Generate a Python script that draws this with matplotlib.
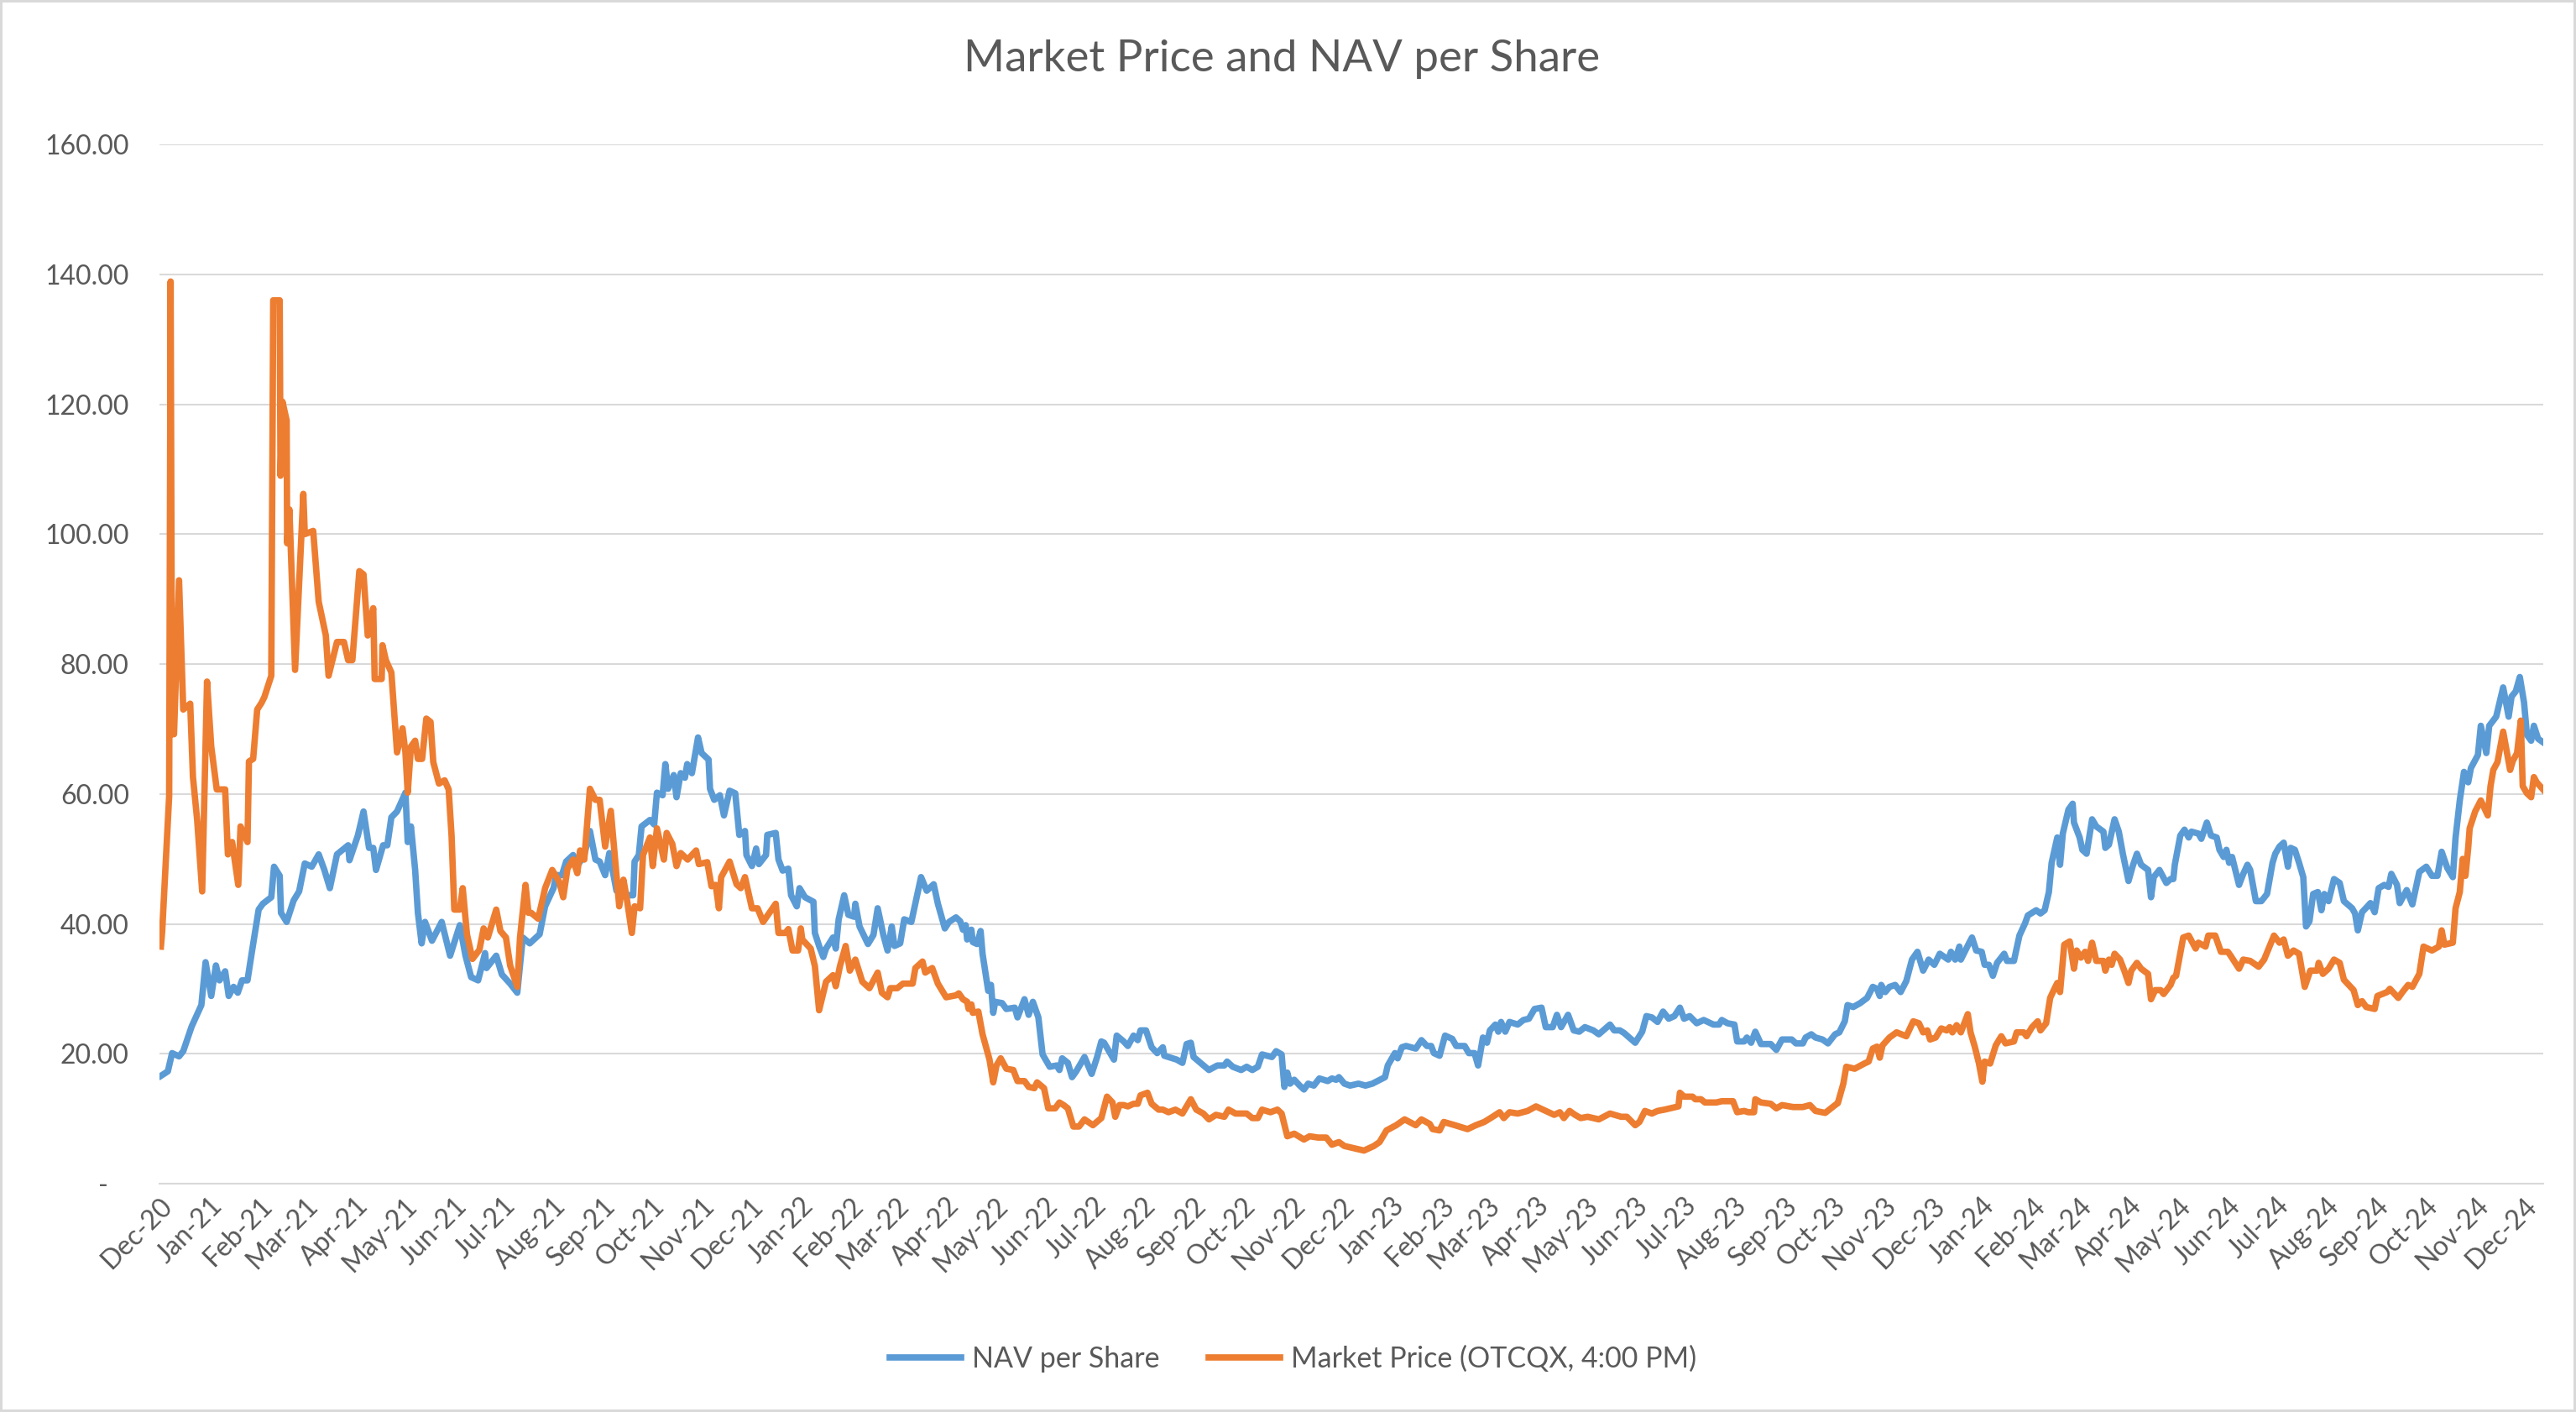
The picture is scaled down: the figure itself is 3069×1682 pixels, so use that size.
import matplotlib
matplotlib.use("Agg")
import matplotlib.pyplot as plt
import matplotlib.dates as mdates
import matplotlib.ticker as mticker
import pandas as pd

start = pd.Timestamp("2020-12-01")

# NAV per Share (days after 2020-12-01, value)
nav_day = [0.9, 5.2, 7.8, 12.1, 14.7, 19.9, 25.9, 28.5, 32.0, 34.9, 37.1, 40.6, 42.8, 45.8, 48.4, 51.0, 54.4, 57.0,
           61.3, 63.9, 69.1, 70.8, 74.3, 75.1, 78.6, 82.9, 86.3, 89.8, 94.1, 98.4, 101.9, 105.3, 109.7, 116.6, 117.4,
           122.6, 126.1, 129.5, 132.1, 133.8, 138.2, 140.8, 143.3, 146.8, 152.0, 153.4, 155.4, 158.0, 159.7, 162.0,
           164.1, 168.4, 174.4, 179.6, 185.6, 189.1, 192.6, 196.9, 201.2, 202.1, 208.1, 211.6, 216.7, 221.1, 224.5,
           228.8, 234.9, 238.3, 243.5, 245.2, 248.7, 251.3, 255.6, 258.2, 262.5, 266.0, 269.4, 272.0, 275.4, 278.0,
           282.4, 290.1, 292.7, 293.6, 296.2, 297.9, 303.1, 305.7, 307.4, 310.9, 312.6, 314.3, 317.8, 319.5, 322.1,
           324.7, 326.1, 329.0, 332.8, 335.0, 339.3, 340.2, 342.8, 346.3, 348.8, 352.3, 355.8, 358.3, 361.8, 362.7,
           366.1, 368.7, 370.4, 374.8, 375.6, 380.8, 382.5, 385.1, 388.6, 390.3, 393.8, 395.5, 398.9, 404.1, 405.0,
           407.6, 410.2, 411.9, 416.2, 417.9, 419.7, 423.1, 425.7, 429.2, 430.0, 432.6, 437.8, 441.2, 443.8, 447.3,
           449.9, 452.5, 454.2, 457.7, 460.2, 464.6, 470.6, 474.1, 478.4, 481.0, 485.3, 487.9, 492.2, 494.8, 496.5,
           498.2, 499.1, 501.7, 502.6, 505.2, 507.4, 508.6, 512.1, 513.8, 515.2, 516.4, 520.7, 523.3, 528.5, 530.2,
           534.5, 537.1, 539.7, 543.1, 545.7, 550.1, 554.4, 556.1, 557.8, 561.3, 563.9, 566.5, 571.6, 576.0, 579.4,
           582.0, 583.7, 586.3, 589.8, 591.5, 595.8, 598.4, 601.9, 604.5, 606.2, 609.6, 613.1, 616.5, 620.0, 620.9,
           623.5, 628.6, 632.1, 634.7, 637.3, 639.0, 643.3, 648.5, 653.7, 658.0, 659.7, 663.2, 668.4, 671.8, 675.3,
           678.7, 681.3, 687.4, 690.0, 693.4, 695.1, 696.9, 698.6, 701.2, 704.6, 707.2, 709.8, 713.3, 716.7, 721.9,
           724.5, 727.1, 728.8, 732.2, 735.7, 740.9, 745.2, 749.5, 757.3, 759.0, 763.4, 765.1, 767.7, 770.3, 776.3,
           779.8, 783.2, 785.8, 787.5, 791.0, 794.4, 798.8, 801.3, 806.5, 809.1, 812.6, 814.8, 817.8, 820.3, 822.1,
           825.5, 827.3, 829.0, 831.6, 834.2, 839.3, 842.8, 846.2, 849.7, 854.0, 856.6, 860.9, 863.5, 866.1, 870.4,
           873.9, 877.3, 880.8, 886.0, 889.4, 896.3, 898.9, 902.4, 905.0, 911.9, 916.2, 918.8, 922.2, 925.7, 929.1,
           932.6, 936.1, 939.5, 942.1, 945.5, 949.9, 954.2, 960.2, 963.7, 965.4, 968.9, 973.2, 974.9, 979.2, 980.9,
           983.5, 986.1, 989.6, 995.6, 999.1, 1002.6, 1008.6, 1011.2, 1015.5, 1017.2, 1020.7, 1023.3, 1027.6, 1031.0,
           1035.4, 1038.0, 1041.4, 1043.1, 1046.6, 1050.9, 1055.2, 1058.7, 1061.3, 1063.0, 1063.9, 1066.4, 1069.0,
           1072.5, 1075.9, 1079.4, 1082.9, 1086.3, 1089.8, 1093.2, 1096.7, 1100.1, 1105.3, 1107.0, 1109.6, 1112.2,
           1113.1, 1118.3, 1120.0, 1122.6, 1126.0, 1127.8, 1130.4, 1132.9, 1135.5, 1139.9, 1141.6, 1145.9, 1149.3,
           1152.8, 1154.5, 1159.7, 1162.3, 1164.9, 1167.5, 1169.2, 1172.7, 1174.4, 1176.1, 1179.6, 1182.2, 1183.0,
           1186.5, 1188.2, 1190.8, 1194.2, 1196.8, 1201.2, 1202.4, 1204.6, 1208.1, 1210.7, 1213.2, 1216.7, 1219.3,
           1221.9, 1224.5, 1228.8, 1230.6, 1232.3, 1235.8, 1240.1, 1242.7, 1244.4, 1245.3, 1248.7, 1251.3, 1253.9,
           1255.6, 1259.9, 1261.7, 1265.1, 1267.7, 1271.2, 1272.9, 1275.5, 1277.2, 1278.9, 1280.7, 1285.0, 1287.6,
           1290.2, 1291.9, 1295.4, 1298.8, 1302.3, 1305.7, 1307.4, 1310.0, 1312.6, 1315.2, 1316.9, 1319.5, 1322.1,
           1324.7, 1326.4, 1328.5, 1330.8, 1333.7, 1335.9, 1337.7, 1340.3, 1343.7, 1347.2, 1349.8, 1354.9, 1356.7,
           1358.4, 1361.0, 1364.4, 1366.2, 1368.8, 1371.3, 1374.8, 1377.4, 1379.1, 1382.6, 1384.3, 1388.6, 1392.1,
           1396.4, 1400.7, 1404.2, 1407.6, 1410.2, 1413.7, 1417.1, 1418.8, 1421.4, 1424.0, 1426.6, 1428.3, 1432.6,
           1434.4, 1437.8, 1439.6, 1443.9, 1448.2, 1451.6, 1453.4, 1456.0, 1458.5, 1461.1, 1462.9, 1465.5, 1467.2,
           1469.8, 1473.2]
nav_val = [16.6, 17.3, 20.1, 19.6, 20.4, 24.2, 27.5, 34.1, 28.9, 33.6, 31.3, 32.7, 28.9, 30.3, 29.4, 31.3, 31.3, 35.5,
           42.2, 43.1, 44.1, 48.8, 47.4, 41.7, 40.3, 43.6, 45.0, 49.3, 48.8, 50.7, 48.3, 45.5, 50.7, 52.1, 49.8,
           53.6, 57.3, 51.7, 51.7, 48.3, 52.1, 52.1, 56.4, 57.3, 60.2, 52.6, 55.0, 48.3, 41.7, 37.0,
           40.3, 37.4, 40.3, 35.1, 39.8, 35.1, 31.8, 31.3, 35.5, 33.2, 35.1, 32.2, 30.8, 29.4, 37.9,
           37.0, 38.4, 42.7, 45.5, 47.5, 47.5, 49.6, 50.6, 48.9, 50.6, 54.3, 49.9, 49.6, 47.5, 50.9,
           45.1, 44.4, 44.4, 49.6, 50.6, 55.0, 56.0, 55.3, 60.2, 59.8, 64.6, 60.8, 62.9, 59.5, 63.2,
           62.5, 64.6, 63.2, 68.7, 66.3, 65.3, 60.8, 59.1, 59.8, 56.7, 60.5, 60.1, 53.7, 54.3, 50.6,
           48.9, 51.6, 49.2, 50.6, 53.7, 54.0, 49.9, 48.2, 48.5, 44.4, 42.7, 45.5, 44.1, 43.4, 38.6,
           36.6, 34.9, 36.2, 37.9, 36.2, 40.7, 44.4, 41.4, 41.1, 43.1, 39.6, 36.9, 38.3, 42.4, 38.3,
           35.9, 39.6, 36.6, 37.0, 40.7, 40.3, 47.2, 45.1, 46.1, 43.1, 39.3, 40.3, 41.0, 40.4, 39.1,
           39.8, 37.6, 39.1, 37.2, 36.9, 38.9, 35.4, 29.7, 30.6, 26.3, 28.0, 27.8, 26.9, 27.1, 25.6,
           28.4, 26.0, 28.0, 25.6, 19.9, 18.0, 18.2, 17.5, 19.3, 18.6, 16.4, 17.3, 19.5, 16.9, 19.5,
           21.9, 21.7, 20.6, 19.1, 22.8, 21.9, 21.2, 22.8, 22.1, 23.6, 23.6, 21.0, 20.1, 21.0, 19.7,
           19.5, 19.1, 18.6, 21.5, 21.7, 19.5, 18.6, 17.5, 18.2, 18.2, 18.8, 18.0, 17.5, 18.0, 17.5,
           18.0, 19.9, 19.5, 20.4, 19.9, 14.9, 17.1, 15.4, 16.0, 15.1, 14.5, 15.4, 15.1, 16.2, 15.8,
           16.2, 16.0, 16.4, 15.4, 15.1, 15.4, 15.1, 15.4, 16.4, 18.2, 20.1, 19.3, 21.0, 21.2, 20.8,
           22.1, 21.2, 21.2, 20.1, 19.7, 22.8, 22.3, 21.2, 21.2, 20.1, 20.1, 18.2, 22.5, 21.7, 23.6,
           24.5, 23.4, 24.9, 23.4, 24.9, 24.5, 25.2, 25.4, 26.9, 27.1, 24.1, 24.1, 26.0, 24.1, 26.0,
           23.6, 23.4, 24.1, 23.6, 23.0, 24.5, 23.6, 23.6, 23.2, 21.7, 23.4, 25.8, 25.6, 24.9, 26.5,
           25.4, 25.8, 27.1, 25.4, 25.8, 24.7, 25.2, 24.5, 24.5, 25.2, 24.7, 24.5, 21.9, 21.9, 22.5,
           21.7, 23.4, 21.5, 21.5, 20.6, 22.2, 22.2, 21.6, 21.6, 22.5, 23.0, 22.5, 22.2, 21.6,
           23.0, 23.3, 25.0, 27.5, 27.2, 27.8, 28.6, 30.3, 30.0, 28.9, 30.6, 29.5, 30.3,
           30.6, 29.5, 31.2, 34.5, 35.7, 32.8, 34.5, 33.7, 35.4, 34.5, 35.7, 34.5, 36.5,
           34.5, 37.1, 37.9, 35.9, 35.7, 33.7, 33.7, 32.0, 34.0, 35.4, 34.3, 34.3, 38.2,
           40.1, 41.3, 42.1, 41.6, 42.1, 44.9, 49.4, 53.3, 49.1, 53.9, 57.6, 58.5, 55.6,
           53.3, 51.4, 50.8, 56.1, 55.0, 54.2, 51.7, 52.2, 56.1, 54.2, 50.8, 46.6, 48.9,
           50.8, 49.1, 48.3, 44.1, 47.2, 48.3, 46.3, 46.9, 46.9, 49.1, 53.6, 54.5, 53.3,
           54.2, 53.9, 53.1, 55.6, 53.6, 53.3, 51.4, 50.3, 51.4, 49.4, 50.3, 46.0, 47.7,
           49.1, 48.3, 43.5, 43.5, 44.6, 49.4, 50.8, 51.9, 52.5, 48.8, 51.7, 51.4, 49.4,
           47.2, 39.6, 40.4, 44.6, 44.9, 42.1, 44.6, 43.5, 46.9, 46.3, 43.5, 42.4, 41.6,
           39.0, 41.8, 42.7, 43.2, 41.8, 45.5, 46.0, 45.7, 47.7, 46.0, 43.2, 45.2, 43.0,
           48.0, 48.8, 47.4, 47.4, 51.1, 48.6, 47.2, 53.3, 59.0, 63.4, 61.8, 64.0, 66.0,
           70.5, 66.3, 70.5, 71.9, 76.4, 71.9, 75.0, 75.8, 78.0, 74.1, 69.1, 68.2, 70.5,
           68.5, 67.9]

# Market Price (OTCQX, 4:00 PM)
mkt_day = [0.9, 1.7, 6.0, 6.9, 7.8, 9.0, 12.1, 14.7, 19.0, 20.7, 23.3, 26.4, 29.4, 32.0, 35.4, 40.6, 42.3, 44.9,
           48.7, 50.1, 54.4, 55.3, 57.9, 60.4, 63.0, 64.8, 69.1, 70.3, 74.3, 74.8, 76.0, 78.6, 78.9, 80.3, 83.8,
           88.9, 89.8, 95.0, 98.4, 102.8, 104.5, 109.7, 114.0, 116.6, 119.2, 123.5, 126.1, 128.7, 132.1, 133.0,
           137.3, 137.8, 139.9, 143.3, 146.8, 150.2, 152.0, 153.4, 155.4, 158.0, 159.7, 162.3, 164.9, 167.5, 169.2,
           172.7, 176.2, 178.7, 180.5, 182.2, 185.6, 187.4, 190.0, 193.4, 197.7, 200.3, 202.9, 208.1, 210.7, 214.1,
           216.7, 221.1, 222.8, 226.2, 228.0, 229.7, 234.0, 236.6, 238.3, 242.7, 247.0, 249.5, 252.1, 255.6, 258.2,
           259.9, 262.5, 266.0, 269.4, 272.0, 275.4, 278.9, 284.1, 286.7, 288.7, 291.9, 293.6, 297.0, 298.8, 303.1,
           304.8, 307.4, 311.7, 313.4, 316.9, 319.5, 322.1, 326.4, 331.6, 333.3, 338.5, 341.1, 343.7, 345.7, 347.1,
           352.3, 356.6, 359.2, 361.8, 366.1, 369.6, 373.0, 380.8, 382.5, 386.8, 388.6, 391.2, 394.6, 396.3, 397.2,
           402.4, 405.0, 407.6, 411.9, 416.2, 417.9, 420.5, 424.0, 426.6, 430.0, 434.3, 438.7, 443.8, 446.4, 449.9,
           451.6, 455.9, 459.4, 465.4, 467.1, 471.5, 473.2, 477.5, 481.0, 486.1, 492.2, 493.9, 496.5, 499.1, 500.0,
           501.7, 502.6, 506.0, 508.6, 512.9, 515.2, 517.2, 519.8, 523.3, 527.6, 530.2, 534.5, 537.1, 540.6, 542.3,
           546.6, 549.2, 553.5, 556.1, 558.7, 561.3, 564.7, 568.2, 571.6, 576.8, 582.0, 585.5, 588.9, 590.6, 593.2,
           595.8, 598.4, 601.9, 604.5, 606.2, 610.5, 613.1, 617.4, 620.0, 623.5, 627.8, 632.1, 637.3, 640.7, 645.0,
           648.5, 652.8, 658.0, 660.6, 664.9, 671.8, 675.3, 678.7, 681.3, 686.5, 690.8, 693.4, 696.9, 701.2, 707.2,
           710.7, 715.9, 721.0, 724.5, 728.8, 732.2, 737.4, 744.3, 750.4, 753.9, 758.2, 764.2, 769.4, 776.3, 779.8,
           784.9, 786.7, 791.0, 793.6, 800.5, 808.3, 813.4, 818.6, 823.8, 828.1, 830.7, 834.2, 839.3, 845.4, 850.6,
           854.9, 861.8, 865.3, 867.8, 871.3, 874.7, 878.2, 882.5, 889.4, 896.3, 903.2, 906.7, 911.9, 914.5, 917.9,
           922.2, 925.7, 930.0, 938.6, 939.5, 942.1, 947.3, 949.0, 952.5, 955.0, 962.0, 965.4, 972.3, 974.9, 979.2,
           981.8, 985.3, 986.1, 989.6, 995.6, 999.1, 1002.6, 1009.5, 1015.5, 1019.8, 1023.3, 1029.3, 1035.4, 1037.1,
           1040.5, 1042.3, 1047.5, 1053.5, 1056.1, 1058.7, 1061.3, 1063.0, 1064.7, 1069.0, 1073.4, 1079.4, 1083.7,
           1087.2, 1089.8, 1092.4, 1094.1, 1097.5, 1101.0, 1104.4, 1106.2, 1107.9, 1110.5, 1113.1, 1117.4, 1119.1,
           1121.7, 1124.3, 1126.4, 1127.8, 1131.2, 1134.7, 1138.1, 1140.7, 1145.9, 1147.6, 1151.9, 1153.7, 1157.1,
           1160.6, 1162.3, 1165.8, 1168.3, 1170.9, 1172.7, 1174.4, 1177.0, 1180.4, 1183.0, 1184.7, 1187.3, 1189.9,
           1191.7, 1194.2, 1196.8, 1201.2, 1202.4, 1204.6, 1206.3, 1208.1, 1211.5, 1214.1, 1216.7, 1218.4, 1221.9,
           1224.5, 1228.8, 1230.6, 1233.2, 1236.6, 1238.4, 1242.7, 1244.4, 1246.1, 1250.5, 1253.9, 1258.2, 1259.9,
           1264.3, 1266.0, 1270.3, 1273.8, 1278.1, 1279.8, 1285.0, 1287.6, 1291.9, 1297.1, 1300.5, 1306.6, 1310.0,
           1312.6, 1315.2, 1318.7, 1322.1, 1325.6, 1329.0, 1333.3, 1334.2, 1336.8, 1340.3, 1343.7, 1347.2, 1349.8,
           1355.8, 1358.4, 1361.0, 1363.6, 1368.8, 1370.5, 1376.5, 1378.2, 1383.4, 1386.0, 1389.5, 1392.1, 1396.4,
           1399.0, 1404.2, 1408.5, 1410.2, 1411.9, 1417.1, 1418.8, 1421.4, 1423.2, 1424.9, 1426.6, 1427.5, 1430.9,
           1434.4, 1438.7, 1440.4, 1442.1, 1444.7, 1448.2, 1452.5, 1454.2, 1456.8, 1459.1, 1460.3, 1462.9, 1465.5,
           1467.2, 1468.9, 1473.2]
mkt_val = [36.5, 38.9, 59.7, 138.9, 69.2, 69.2, 92.9, 73.0, 73.9, 62.6, 56.0, 45.0, 77.3, 67.3, 60.7, 60.7, 50.7, 52.6,
           46.0, 55.0, 52.6, 65.0, 65.4, 73.0, 74.0, 74.9, 78.2, 136.0, 136.0, 109.0, 120.4, 117.5, 98.6, 103.8, 79.1,
           106.2, 100.0, 100.5, 89.6, 84.4, 78.2, 83.4, 83.4, 80.6, 80.6, 94.3, 93.8, 84.4, 88.6, 77.7,
           77.7, 82.9, 80.6, 78.7, 66.4, 70.1, 66.4, 60.2, 67.3, 68.2, 65.4, 65.4, 71.6, 71.1, 64.9,
           61.6, 62.1, 60.7, 53.6, 42.2, 42.2, 45.5, 38.4, 34.6, 36.0, 39.3, 37.9, 42.2, 38.9, 37.9,
           33.6, 30.3, 37.9, 46.0, 41.7, 41.7, 40.8, 43.6, 45.5, 48.3, 46.5, 44.1, 48.5, 49.9, 47.8,
           51.3, 49.9, 60.8, 59.1, 59.1, 51.9, 57.4, 42.7, 46.8, 44.0, 38.6, 42.7, 42.4, 50.6, 53.3,
           48.9, 54.7, 49.9, 54.0, 52.3, 48.9, 50.9, 49.9, 51.3, 49.2, 49.5, 45.8, 46.0, 42.4, 47.2,
           49.6, 46.1, 45.5, 47.2, 42.4, 42.4, 40.3, 43.1, 38.6, 38.6, 39.2, 35.9, 35.9, 39.3, 37.6,
           36.2, 33.5, 26.7, 31.1, 32.1, 30.4, 33.5, 36.6, 32.8, 34.5, 31.1, 30.1, 32.5, 29.4, 28.7,
           30.1, 30.1, 30.8, 30.8, 33.2, 34.2, 32.5, 33.2, 30.8, 28.7, 29.0, 29.3, 28.4, 28.0, 26.9,
           27.6, 26.3, 26.5, 23.0, 19.1, 15.6, 18.2, 19.3, 17.7, 17.5, 15.8, 15.8, 14.9, 14.7, 15.6,
           14.7, 11.6, 11.6, 12.5, 12.1, 11.6, 8.8, 8.8, 9.9, 9.0, 10.1, 13.4, 12.5, 10.3, 12.1,
           12.1, 11.9, 12.3, 12.3, 13.6, 14.0, 12.3, 11.4, 11.4, 11.0, 11.4, 10.8, 13.0, 11.4, 10.8,
           9.9, 10.6, 10.3, 11.4, 10.8, 10.8, 10.1, 10.1, 11.4, 11.0, 11.4, 10.8, 7.3, 7.7, 6.8,
           7.3, 7.1, 7.1, 6.0, 6.4, 5.8, 5.5, 5.1, 5.8, 6.4, 8.2, 9.0, 9.9, 9.0, 9.9,
           9.2, 8.4, 8.2, 9.5, 9.0, 8.4, 9.0, 9.5, 10.3, 11.0, 10.1, 11.0, 10.8, 11.2, 11.9,
           11.4, 10.6, 11.0, 10.1, 11.2, 10.6, 10.1, 10.3, 9.9, 10.8, 10.3, 10.3, 9.0, 9.5, 11.2,
           10.8, 11.2, 11.4, 11.9, 14.0, 13.4, 13.4, 13.0, 13.0, 12.5, 12.5, 12.7, 12.7, 11.0, 11.2,
           11.0, 11.0, 13.0, 12.5, 12.3, 11.6, 12.1, 11.8, 11.8, 12.1, 11.2, 10.9, 12.1, 12.4,
           15.4, 18.0, 17.7, 18.5, 18.8, 20.8, 21.1, 19.4, 21.3, 22.5, 23.3, 22.7, 25.0,
           24.7, 23.3, 23.6, 22.2, 22.5, 23.9, 23.6, 24.1, 23.3, 24.4, 23.3, 26.1, 23.3,
           21.1, 18.5, 15.7, 18.8, 18.5, 21.3, 22.7, 21.6, 21.9, 23.3, 23.3, 22.7, 24.1,
           25.0, 23.6, 24.7, 28.6, 30.0, 30.9, 29.5, 36.8, 37.3, 33.1, 35.9, 34.8, 35.7,
           34.3, 37.1, 34.3, 34.3, 32.8, 34.5, 33.7, 35.4, 34.5, 32.8, 30.9, 32.8, 34.0,
           33.1, 32.3, 28.4, 29.8, 29.8, 29.2, 30.6, 31.7, 32.0, 37.9, 38.2, 36.2, 37.1,
           36.5, 38.2, 38.2, 35.7, 35.7, 35.1, 33.1, 34.5, 34.3, 33.4, 34.5, 38.2, 37.1,
           37.6, 35.1, 35.9, 35.4, 30.3, 32.8, 32.8, 34.0, 32.3, 33.1, 34.5, 34.0, 31.4,
           29.8, 27.5, 28.1, 27.2, 26.9, 28.9, 29.5, 30.0, 28.6, 29.5, 30.6, 30.3, 32.3,
           36.5, 35.9, 36.5, 39.0, 36.8, 37.1, 42.4, 44.9, 50.0, 47.4, 51.7, 54.7, 57.3,
           59.0, 56.7, 61.2, 63.7, 64.9, 69.6, 63.7, 65.1, 66.3, 71.3, 61.2, 60.1, 59.5,
           62.6, 61.8, 60.6]

nav_dates = start + pd.to_timedelta(nav_day, unit="D")
mkt_dates = start + pd.to_timedelta(mkt_day, unit="D")

plt.rcParams['font.family'] = ['Lato', 'DejaVu Sans']
text_color = '#595959'
grid_color = '#D9D9D9'

fig = plt.figure(figsize=(30.69, 16.82), dpi=100)
fig.patch.set_edgecolor(grid_color)
fig.patch.set_linewidth(3)
ax = fig.add_axes([0.0619, 0.1617, 0.9254, 0.736])

ax.plot(nav_dates, nav_val, color='#5B9BD5', lw=5.5, solid_joinstyle='round', label='NAV per Share')
ax.plot(mkt_dates, mkt_val, color='#ED7D31', lw=5.5, solid_joinstyle='round', label='Market Price (OTCQX, 4:00 PM)')

ax.set_ylim(0, 160)
ax.set_xlim(start, start + pd.Timedelta(days=1473))
ax.yaxis.set_major_locator(mticker.MultipleLocator(20))
ax.yaxis.set_major_formatter(mticker.FuncFormatter(lambda v, p: '-   ' if v == 0 else f'{v:.2f}'))
ax.xaxis.set_major_locator(mdates.MonthLocator())
ax.xaxis.set_major_formatter(mdates.DateFormatter('%b-%y'))

ax.grid(axis='y', color=grid_color, lw=1.5)
ax.set_axisbelow(True)
for s in ['top', 'right', 'left']:
    ax.spines[s].set_visible(False)
ax.spines['bottom'].set_color(grid_color)
ax.spines['bottom'].set_linewidth(1.5)
ax.tick_params(axis='y', length=0, pad=26, labelsize=23, labelcolor=text_color)
ax.tick_params(axis='x', length=0, pad=8, labelsize=23, labelcolor=text_color)
plt.setp(ax.get_xticklabels(), rotation=45, ha='right', va='top', rotation_mode='anchor')

fig.text(0.4975, 0.958, 'Market Price and NAV per Share', ha='center', va='center', fontsize=38, color=text_color)
fig.legend(loc='center', bbox_to_anchor=(0.502, 0.0375), ncol=2, frameon=False, fontsize=24.5,
           labelcolor=text_color, handlelength=2.5, handletextpad=0.4, columnspacing=1.7)

fig.savefig('out.png', dpi=100)
